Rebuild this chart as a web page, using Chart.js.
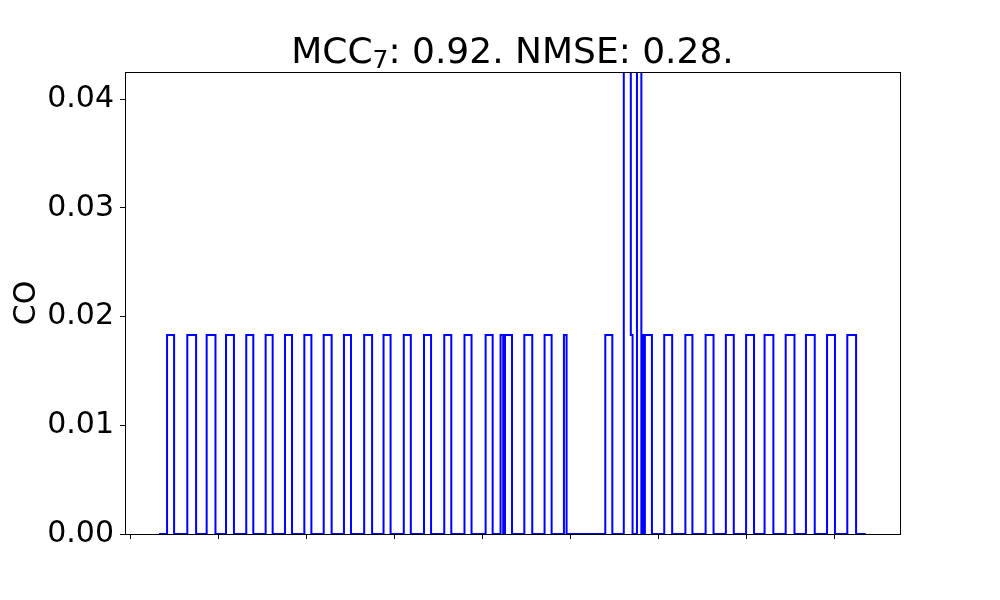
<!DOCTYPE html>
<html>
<head>
<meta charset="utf-8">
<script src="https://cdn.jsdelivr.net/npm/chart.js@4"></script>
<style>
    html, body { margin: 0; padding: 0; background: #fff; }
    #box { width: 1000px; height: 600px; }
</style>
</head>
<body>
<div id="box"><canvas id="coChart"></canvas></div>
<script>
// step edges (time) and the level that holds from that time on
const stepTimes = [
    32, 41, 49, 64, 74, 86, 96, 108, 117, 131, 139, 153, 161, 175, 183, 197, 205,
    219, 228, 242, 250, 265, 274, 287, 295, 310, 318, 333, 341, 356, 364, 379, 387,
    403, 411, 420, 423, 425, 433, 447, 456, 470, 478, 492, 495, 539, 547,
    560, 568, 570, 575, 580, 581, 582, 584, 592, 606, 615, 630, 638, 653, 662,
    676, 685, 699, 708, 720, 730, 744, 754, 767, 777, 791, 800, 814, 824, 835,
];
const stepLevels = [
    0, 0.0183, 0, 0.0183, 0, 0.0183, 0, 0.0183, 0, 0.0183, 0, 0.0183, 0, 0.0183, 0, 0.0183, 0,
    0.0183, 0, 0.0183, 0, 0.0183, 0, 0.0183, 0, 0.0183, 0, 0.0183, 0, 0.0183, 0, 0.0183, 0,
    0.0183, 0, 0.0183, 0, 0.0183, 0, 0.0183, 0, 0.0183, 0, 0.0183, 0, 0.0183, 0,
    0.05, 0.0183, 0, 0.05, 0, 0.0183, 0, 0.0183, 0, 0.0183, 0, 0.0183, 0, 0.0183, 0,
    0.0183, 0, 0.0183, 0, 0.0183, 0, 0.0183, 0, 0.0183, 0, 0.0183, 0, 0.0183, 0, 0,
];
const xTicks = [0, 100, 200, 300, 400, 500, 600, 700, 800];
const yTicks = [0, 0.01, 0.02, 0.03, 0.04];
const titleMain = 'MCC';
const titleSub = '7';
const titleRest = ': 0.92. NMSE: 0.28.';
const yLabel = 'CO';

const FONT = '"DejaVu Sans", sans-serif';

const decor = {
    id: 'decor',
    afterDatasetsDraw(chart) {
        const ctx = chart.ctx;
        const a = chart.chartArea;
        ctx.save();
        ctx.strokeStyle = '#000';
        ctx.lineWidth = 1;
        ctx.strokeRect(Math.round(a.left) + 0.5, Math.round(a.top) + 0.5,
            Math.round(a.right - a.left), Math.round(a.bottom - a.top));
        ctx.restore();
    },
    afterDraw(chart) {
        const ctx = chart.ctx;
        const a = chart.chartArea;
        ctx.save();
        ctx.fillStyle = '#000';
        // title with subscript
        const bigFont = '36px ' + FONT;
        const subFont = '25px ' + FONT;
        ctx.font = bigFont;
        const w1 = ctx.measureText(titleMain).width;
        const w3 = ctx.measureText(titleRest).width;
        ctx.font = subFont;
        const w2 = ctx.measureText(titleSub).width;
        let x = (a.left + a.right) / 2 - (w1 + w2 + w3) / 2;
        ctx.textBaseline = 'alphabetic';
        ctx.textAlign = 'left';
        ctx.font = bigFont;
        ctx.fillText(titleMain, x, 63);
        x += w1;
        ctx.font = subFont;
        ctx.fillText(titleSub, x, 68);
        x += w2;
        ctx.font = bigFont;
        ctx.fillText(titleRest, x, 63);
        // y label
        ctx.translate(27, (a.top + a.bottom) / 2);
        ctx.rotate(-Math.PI / 2);
        ctx.font = '30px ' + FONT;
        ctx.textAlign = 'center';
        ctx.textBaseline = 'middle';
        ctx.fillText(yLabel, 0, 0);
        ctx.restore();
    },
};

new Chart('coChart', {
    type: 'line',
    data: {
        datasets: [
            {
                data: stepTimes.map((t, i) => ({ x: t, y: stepLevels[i] })),
                borderColor: '#0000ff',
                borderWidth: 2,
                pointRadius: 0,
                stepped: true,
                fill: false,
                clip: 0,
            },
        ],
    },
    options: {
        responsive: true,
        maintainAspectRatio: false,
        animation: false,
        layout: { padding: { top: 72, right: 100, left: 0, bottom: 0 } },
        plugins: {
            legend: { display: false },
            title: { display: false },
            tooltip: { enabled: false },
        },
        scales: {
            x: {
                type: 'linear',
                min: -6.8,
                max: 873.9,
                afterBuildTicks: (s) => {
                    s.ticks = xTicks.map((v) => ({ value: v }));
                },
                afterFit: (s) => {
                    s.height = 66;
                },
                ticks: { display: false },
                grid: {
                    drawOnChartArea: false,
                    drawTicks: true,
                    tickLength: 5,
                    color: '#000',
                },
                border: { display: false },
            },
            y: {
                min: 0,
                max: 0.0425,
                afterBuildTicks: (s) => {
                    s.ticks = yTicks.map((v) => ({ value: v }));
                },
                afterFit: (s) => {
                    s.width = 125;
                },
                ticks: {
                    color: '#000',
                    padding: 6,
                    font: { family: FONT, size: 30 },
                    callback: (v) => v.toFixed(2),
                },
                grid: {
                    drawOnChartArea: false,
                    drawTicks: true,
                    tickLength: 5,
                    color: '#000',
                },
                border: { display: false },
            },
        },
    },
    plugins: [decor],
});
</script>
</body>
</html>
